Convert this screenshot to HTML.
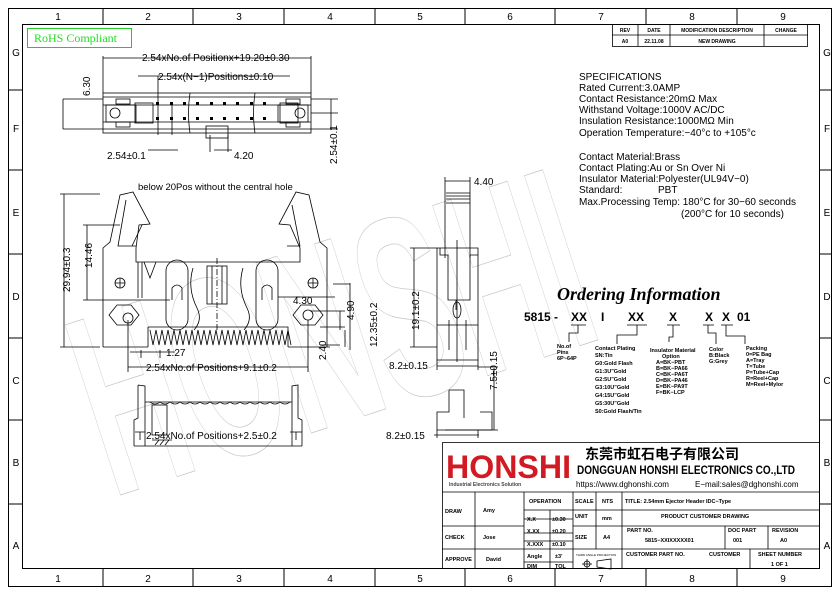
<!DOCTYPE html>
<html><head><meta charset="utf-8"><style>
body{margin:0;background:#fff}
svg{display:block}
text{font-family:"Liberation Sans","Noto Sans CJK SC",sans-serif;fill:#000}
</style></head><body>
<svg width="840" height="595" viewBox="0 0 840 595" xmlns="http://www.w3.org/2000/svg">
<g fill="none" stroke="#000" stroke-width="1">
<rect x="8.5" y="8.5" width="823" height="578"/>
<rect x="22.5" y="24.5" width="797" height="544"/>
<path d="M103 8V24M193 8V24M284 8V24M375 8V24M465 8V24M555 8V24M646 8V24M737 8V24M103 569V587M193 569V587M284 569V587M375 569V587M465 569V587M555 569V587M646 569V587M737 569V587"/>
<path d="M8 90H22M8 170H22M8 254H22M8 338H22M8 420H22M8 504H22M820 90H832M820 170H832M820 254H832M820 338H832M820 420H832M820 504H832"/>
</g>
<g font-size="10" text-anchor="middle">
<text x="58" y="20">1</text><text x="148" y="20">2</text><text x="239" y="20">3</text><text x="330" y="20">4</text><text x="420" y="20">5</text><text x="510" y="20">6</text><text x="601" y="20">7</text><text x="692" y="20">8</text><text x="783" y="20">9</text>
<text x="58" y="582">1</text><text x="148" y="582">2</text><text x="239" y="582">3</text><text x="330" y="582">4</text><text x="420" y="582">5</text><text x="510" y="582">6</text><text x="601" y="582">7</text><text x="692" y="582">8</text><text x="783" y="582">9</text>
<text x="16" y="56">G</text><text x="16" y="132">F</text><text x="16" y="216">E</text><text x="16" y="300">D</text><text x="16" y="384">C</text><text x="16" y="466">B</text><text x="16" y="549">A</text>
<text x="827" y="56">G</text><text x="827" y="132">F</text><text x="827" y="216">E</text><text x="827" y="300">D</text><text x="827" y="384">C</text><text x="827" y="466">B</text><text x="827" y="549">A</text>
</g>

<text x="60" y="430" font-size="260" font-weight="bold" stroke="#c8c8c8" stroke-width="0.8" style="fill:none" transform="rotate(-18 300 300)" textLength="520" lengthAdjust="spacingAndGlyphs">HONSHI</text>

<rect x="27.5" y="28.5" width="104" height="19" fill="none" stroke="#2c2" />
<text x="34" y="42" font-size="12" style="fill:#2d2;font-family:'Liberation Serif',serif">RoHS Compliant</text>

<g fill="none" stroke="#000" stroke-width="0.8">
<rect x="612.5" y="24.5" width="195" height="22"/>
<path d="M612 35H808M638 24V46M670 24V46M764 24V46"/>
</g>
<g font-size="5" text-anchor="middle" font-weight="bold">
<text x="625" y="32">REV</text><text x="654" y="32">DATE</text><text x="717" y="32">MODIFICATION DESCRIPTION</text><text x="786" y="32">CHANGE</text>
<text x="625" y="43">A0</text><text x="654" y="43">22.11.08</text><text x="717" y="43">NEW DRAWING</text>
</g>

<g fill="none" stroke="#000" stroke-width="0.8">
<rect x="103" y="93" width="208" height="40"/>
<path d="M103 97H311M103 129H311M103 105H311M103 122H311"/>
<rect x="106" y="105" width="30" height="17"/><circle cx="115" cy="113" r="5"/>
<rect x="135" y="103" width="18" height="20"/>
<rect x="280" y="103" width="18" height="20"/>
<rect x="278" y="105" width="30" height="17"/><circle cx="300" cy="113" r="5"/>
<rect x="116" y="99" width="14" height="5"/><rect x="116" y="122" width="14" height="5"/>
<rect x="286" y="99" width="14" height="5"/><rect x="286" y="122" width="14" height="5"/>
<rect x="206" y="126" width="22" height="12"/>
<path d="M190 93q-3 20 0 40M255 93q-3 20 0 40"/>
<path d="M103 56V93M311 56V93M103 58H311M138 76H290M158 76V135M172 105V135M148 150H178M210 135V152M228 135V152M214 150H232"/>
<path d="M63 99V129M63 99H103M63 129H103M331 99V130M311 99H338M311 113H338M311 129H338"/>
</g>
<g fill="#000">
<rect x="156" y="102" width="3" height="3"/><rect x="170" y="102" width="3" height="3"/><rect x="183" y="102" width="3" height="3"/><rect x="196" y="102" width="3" height="3"/><rect x="210" y="102" width="3" height="3"/><rect x="223" y="102" width="3" height="3"/><rect x="236" y="102" width="3" height="3"/><rect x="250" y="102" width="3" height="3"/><rect x="263" y="102" width="3" height="3"/>
<rect x="156" y="117" width="3" height="3"/><rect x="170" y="117" width="3" height="3"/><rect x="183" y="117" width="3" height="3"/><rect x="196" y="117" width="3" height="3"/><rect x="210" y="117" width="3" height="3"/><rect x="223" y="117" width="3" height="3"/><rect x="236" y="117" width="3" height="3"/><rect x="250" y="117" width="3" height="3"/><rect x="263" y="117" width="3" height="3"/>
</g>
<g font-size="10">
<text x="142" y="61">2.54xNo.of  Positionx+19.20±0.30</text>
<text x="158" y="80">2.54x(N−1)Positions±0.10</text>
<text x="107" y="159">2.54±0.1</text>
<text x="234" y="159">4.20</text>
<text transform="translate(90 96) rotate(-90)">6.30</text>
<text transform="translate(337 164) rotate(-90)">2.54±0.1</text>
</g>

<g fill="none" stroke="#000" stroke-width="0.8">
<path d="M103 347V248L110 242L120 195L133 192L150 224L139 225L136 248V262L300 262V248L290 225L279 224L296 192L309 195L320 242L327 248V347"/>
<path d="M126 200L118 246H136M142 225L132 246"/>
<path d="M292 205L300 246H287"/>
<path d="M138 262V298M142 262V298"/>
<path d="M144 262L150 278L156 262"/>
<rect x="166" y="260" width="22" height="70" rx="11"/>
<rect x="256" y="260" width="22" height="70" rx="11"/>
<path d="M172 300V288Q177 282 182 288V300M262 300V288Q267 282 272 288V300"/>
<rect x="207" y="266" width="20" height="38"/><path d="M212 266V304M222 266V304"/>
<path d="M217 258V330" stroke-dasharray="6 2 1 2"/>
<path d="M193 268q-6 20 4 40q6 12 -3 22M243 268q-6 20 4 40q6 12 -3 22"/>
<circle cx="120" cy="283" r="5"/><path d="M115 283H125M120 278V288"/>
<circle cx="313" cy="283" r="5"/><path d="M308 283H318M313 278V288"/>
<path d="M118 313l8-10h14l8 10l-8 10h-14z" transform="translate(-9 2)"/><circle cx="128" cy="318" r="5"/>
<path d="M298 315l8-10h14l8 10l-8 10h-14z" transform="translate(-5 0)"/><circle cx="308" cy="315" r="5"/>
<path d="M148 327H288V347M148 327V347M103 347H148M288 347H330"/>
<path d="M150 330l3 15l3-15l3 15l3-15l3 15l3-15l3 15l3-15l3 15l3-15l3 15l3-15l3 15l3-15l3 15l3-15l3 15l3-15l3 15l3-15l3 15l3-15l3 15l3-15l3 15l3-15l3 15l3-15l3 15l3-15l3 15l3-15l3 15l3-15l3 15l3-15l3 15l3-15l3 15l3-15l3 15l3-15l3 15l3-15l3 15l3-15l3 15"/>
<path d="M60 194H100M60 347H100M64 194V347M83 225H120M83 300H170M87 225V300"/>
<path d="M128 320V372M308 320V372M128 367H308M141 350V358M160 350V358M130 352H175"/>
<path d="M333 284H350M350 283V350M296 297H335M310 311H345M340 311V330M320 327H345M320 345H340M345 330V347"/>
<path d="M278 297H300"/>
<path d="M138 385V418L134 420V446M138 385L145 386V402H292V386L298 385V418L302 420V446M134 446H302M145 402V446M292 402V446"/>
<path d="M150 402q5 4 10 0q5 4 10 0q5 4 10 0q5 4 10 0q5 4 10 0q5 4 10 0q5 4 10 0q5 4 10 0q5 4 10 0q5 4 10 0q5 4 10 0q5 4 10 0q5 4 10 0q5 4 10 0"/>
<rect x="152" y="405" width="15" height="30"/><path d="M152 440h20M155 445l4-5M160 445l4-5M165 445l4-5"/>
<path d="M135 432H145M290 432H302M140 432V440M296 432V440"/>
</g>
<text x="138" y="190" font-size="9.5">below 20Pos without the central hole</text>
<g font-size="10">
<text transform="translate(70 292) rotate(-90)">29.94±0.3</text>
<text transform="translate(92 268) rotate(-90)">14.46</text>
<text x="293" y="304">4.30</text>
<text transform="translate(354 320) rotate(-90)">4.90</text>
<text transform="translate(377 347) rotate(-90)">12.35±0.2</text>
<text transform="translate(326 360) rotate(-90)">2.40</text>
<text x="166" y="356">1.27</text>
<text x="146" y="371">2.54xNo.of  Positions+9.1±0.2</text>
<text x="146" y="439">2.54xNo.of  Positions+2.5±0.2</text>
</g>

<g fill="none" stroke="#000" stroke-width="0.8">
<path d="M445 177V258M470 177V258M445 181H470"/>
<path d="M446 193H470M446 196H470M446 199H470M446 203H470"/>
<path d="M437 248H478V325H437zM437 320V360H478V320M440 248V255h8V300h22V255h8V248M456 300v10"/>
<ellipse cx="457" cy="310" rx="4" ry="8"/>
<path d="M449 320V350M466 320V350M457 240V362" />
<path d="M410 248H437M410 347H437M414 248V347M437 360V370M478 360V370M437 366H478M478 367H498M445 430H498M494 368V430"/>
<path d="M449 390H464V418M449 390V412h-12V430h55V412h-12"/>
<path d="M434 435H479M437 430V438M478 430V438"/>
</g>
<g font-size="10">
<text x="474" y="185">4.40</text>
<text transform="translate(419 330) rotate(-90)">19.1±0.2</text>
<text x="389" y="369">8.2±0.15</text>
<text transform="translate(497 390) rotate(-90)">7.5±0.15</text>
<text x="386" y="439">8.2±0.15</text>
</g>

<g font-size="10">
<text x="579" y="80">SPECIFICATIONS</text>
<text x="579" y="91">Rated Current:3.0AMP</text>
<text x="579" y="102">Contact Resistance:20mΩ Max</text>
<text x="579" y="113">Withstand Voltage:1000V AC/DC</text>
<text x="579" y="124">Insulation Resistance:1000MΩ Min</text>
<text x="579" y="136">Operation Temperature:−40°c to +105°c</text>
<text x="579" y="160">Contact Material:Brass</text>
<text x="579" y="171">Contact Plating:Au or Sn Over Ni</text>
<text x="579" y="182">Insulator Material:Polyester(UL94V−0)</text>
<text x="579" y="193">Standard:</text><text x="658" y="193">PBT</text>
<text x="579" y="205">Max.Processing Temp: 180°C for 30−60 seconds</text>
<text x="681" y="217">(200°C for 10 seconds)</text>
</g>

<text x="557" y="300" font-size="18" font-style="italic" font-weight="bold" style="font-family:'Liberation Serif',serif">Ordering Information</text>
<g font-size="12" font-weight="bold">
<text x="524" y="321">5815 -</text><text x="571" y="321">XX</text><text x="601" y="321">I</text><text x="628" y="321">XX</text><text x="669" y="321">X</text><text x="705" y="321">X</text><text x="722" y="321">X</text><text x="737" y="321">01</text>
</g>
<g fill="none" stroke="#000" stroke-width="0.8">
<path d="M571 325H586M627 325H647M667 325H680M703 325H714M721 325H733"/>
<path d="M578 325V333H569V342M637 325V335H617V344M673 325V337H669V342M708 325V333H716V344M726 325V336H745V344"/>
</g>
<g font-size="5.5" font-weight="bold">
<text x="557" y="348">No.of</text><text x="557" y="354">Pins</text><text x="557" y="360">6P~64P</text>
<text x="595" y="350">Contact  Plating</text><text x="595" y="357">SN:Tin</text><text x="595" y="365">G0:Gold  Flash</text><text x="595" y="373">G1:3U"Gold</text><text x="595" y="381">G2:5U"Gold</text><text x="595" y="389">G3:10U"Gold</text><text x="595" y="397">G4:15U"Gold</text><text x="595" y="405">G5:30U"Gold</text><text x="595" y="413">S0:Gold  Flash/Tin</text>
<text x="650" y="352">Insulator  Material</text><text x="662" y="358">Option</text><text x="656" y="364">A=BK−PBT</text><text x="656" y="370">B=BK−PA66</text><text x="656" y="376">C=BK−PA6T</text><text x="656" y="382">D=BK−PA46</text><text x="656" y="388">E=BK−PA9T</text><text x="656" y="394">F=BK−LCP</text>
<text x="709" y="351">Color</text><text x="709" y="357">B:Black</text><text x="709" y="363">G:Grey</text>
<text x="746" y="350">Packing</text><text x="746" y="356">0=PE  Bag</text><text x="746" y="362">A=Tray</text><text x="746" y="368">T=Tube</text><text x="746" y="374">P=Tube+Cap</text><text x="746" y="380">R=Reel+Cap</text><text x="746" y="386">M=Reel+Mylor</text>
</g>

<g fill="none" stroke="#000" stroke-width="0.8">
<rect x="442.5" y="442.5" width="377" height="126"/>
<path d="M442 492H820M475 492V569M524 492V569M550 510V569M573 492V569M596 492V549M622 492V569M524 510H573M442 526H524M524 519H573M573 510H820M573 526H820M524 533H573M442 549H820M524 541H573M524 562H573M725 526V549M750 549V569M768 526V549"/>
</g>
<text x="446" y="478" font-size="32" font-weight="bold" style="fill:#d21a22" textLength="125" lengthAdjust="spacingAndGlyphs">HONSHI</text>
<text x="449" y="486" font-size="5" font-weight="bold" style="fill:#444">Industrial Electronics Solution</text>
<text x="585" y="459" font-size="14" font-weight="bold">东莞市虹石电子有限公司</text>
<text x="577" y="474" font-size="12" font-weight="bold" textLength="218" lengthAdjust="spacingAndGlyphs">DONGGUAN HONSHI ELECTRONICS CO.,LTD</text>
<text x="576" y="487" font-size="8">https://www.dghonshi.com</text>
<text x="695" y="487" font-size="8">E−mail:sales@dghonshi.com</text>
<g font-size="5.5" font-weight="bold">
<text x="445" y="513">DRAW</text><text x="483" y="512">Amy</text>
<text x="445" y="539">CHECK</text><text x="483" y="539">Jose</text>
<text x="445" y="561">APPROVE</text><text x="486" y="561">David</text>
<text x="529" y="503">OPERATION</text>
<text x="527" y="521">X.X</text><text x="552" y="521">±0.30</text>
<text x="527" y="533">X.XX</text><text x="552" y="533">±0.20</text>
<text x="527" y="546">X.XXX</text><text x="552" y="546">±0.10</text>
<text x="527" y="558">Angle</text><text x="555" y="558">±3'</text>
<text x="527" y="568">DIM</text><text x="555" y="568">TOL</text>
<text x="575" y="503">SCALE</text><text x="602" y="503">NTS</text>
<text x="575" y="518">UNIT</text><text x="602" y="520">mm</text>
<text x="575" y="539">SIZE</text><text x="603" y="539">A4</text>
<text x="625" y="503">TITLE: 2.54mm  Ejector  Header  IDC−Type</text>
<text x="661" y="518">PRODUCT  CUSTOMER  DRAWING</text>
<text x="627" y="532">PART  NO.</text><text x="645" y="542">5815−XXIXXXXX01</text>
<text x="728" y="532">DOC  PART</text><text x="733" y="542">001</text>
<text x="772" y="532">REVISION</text><text x="780" y="542">A0</text>
<text x="626" y="556">CUSTOMER  PART  NO.</text>
<text x="709" y="556">CUSTOMER</text>
<text x="758" y="556">SHEET  NUMBER</text><text x="771" y="566">1  OF  1</text>
</g>
<text x="576" y="556" font-size="3">THIRD ANGLE PROJECTION</text>
<g fill="none" stroke="#000" stroke-width="0.8"><circle cx="587" cy="564" r="3"/><path d="M582 564h10M587 559v10M597 561l14-2v10l-14-2z"/></g>
</svg>
</body></html>
